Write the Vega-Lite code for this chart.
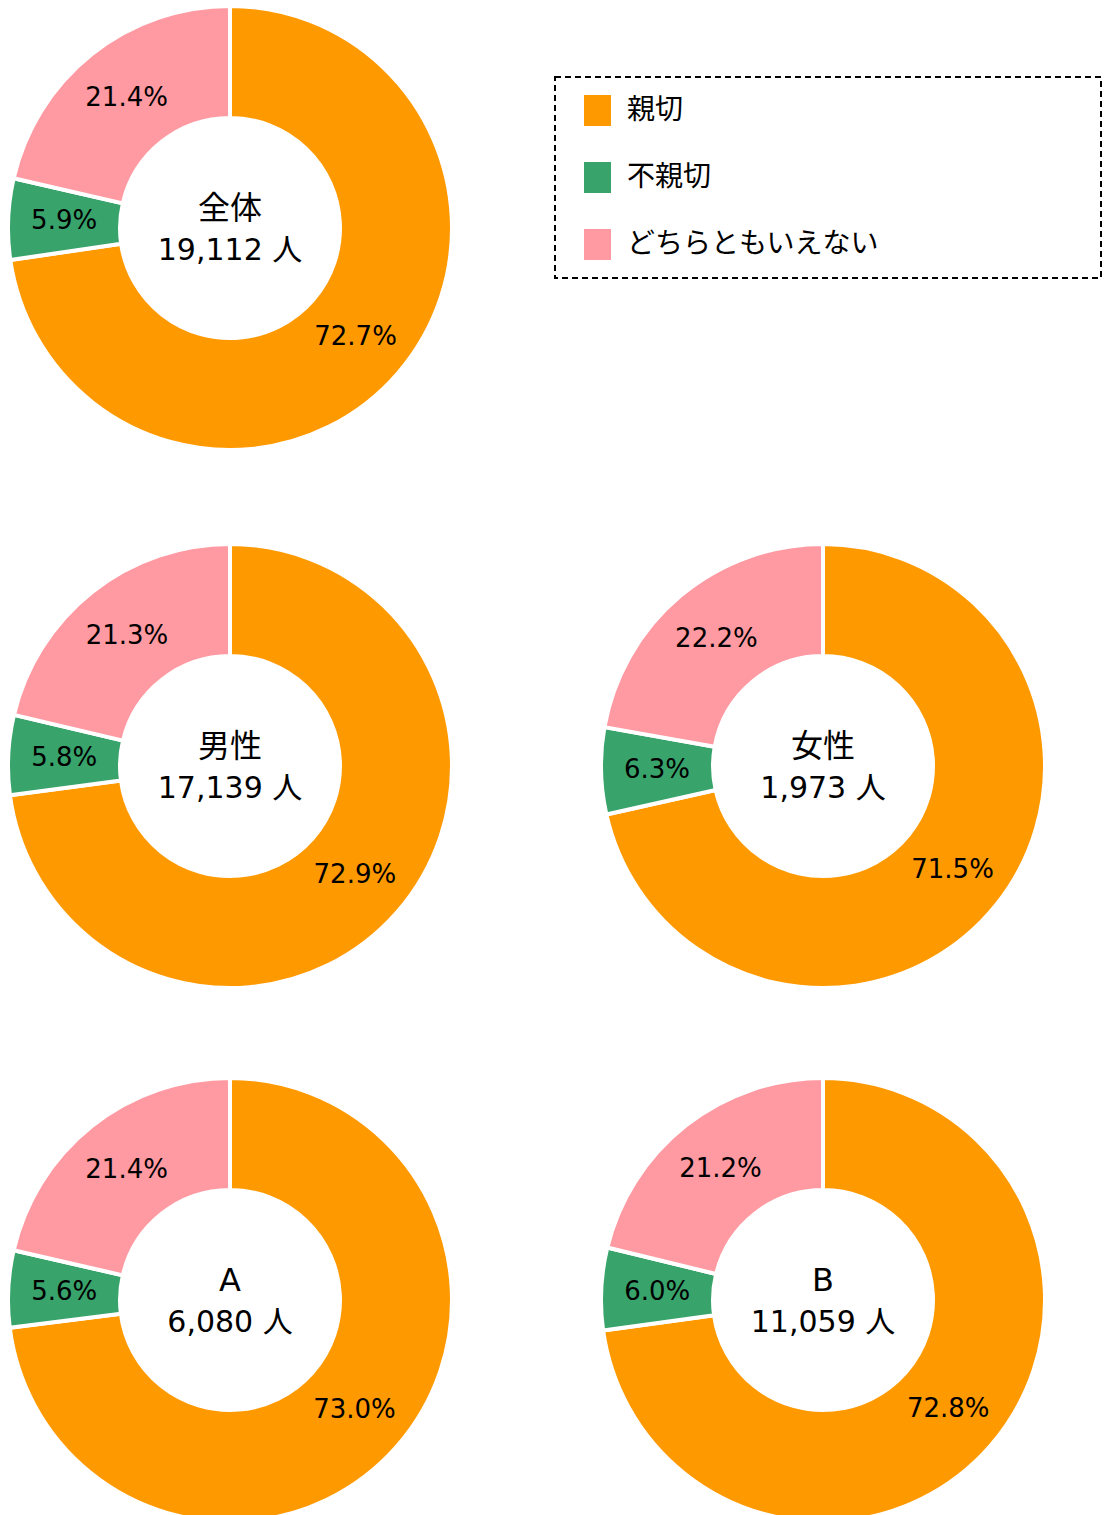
{
  "$schema": "https://vega.github.io/schema/vega-lite/v6.json",
  "padding": {"left": 4, "top": 2, "right": 0, "bottom": 0},
  "background": "white",
  "config": {
    "view": {"stroke": null},
    "legend": {"strokeDash": [6, 4], "strokeWidth": 2, "strokeColor": "black"}
  },
  "data": {
    "values": [
      {"group": "全体", "people": "19,112 人", "cat": "親切", "ord": 1, "pct": 0.727},
      {"group": "全体", "people": "19,112 人", "cat": "不親切", "ord": 2, "pct": 0.059},
      {"group": "全体", "people": "19,112 人", "cat": "どちらともいえない", "ord": 3, "pct": 0.214},
      {"group": "男性", "people": "17,139 人", "cat": "親切", "ord": 1, "pct": 0.729},
      {"group": "男性", "people": "17,139 人", "cat": "不親切", "ord": 2, "pct": 0.058},
      {"group": "男性", "people": "17,139 人", "cat": "どちらともいえない", "ord": 3, "pct": 0.213},
      {"group": "女性", "people": "1,973 人", "cat": "親切", "ord": 1, "pct": 0.715},
      {"group": "女性", "people": "1,973 人", "cat": "不親切", "ord": 2, "pct": 0.063},
      {"group": "女性", "people": "1,973 人", "cat": "どちらともいえない", "ord": 3, "pct": 0.222},
      {"group": "A", "people": "6,080 人", "cat": "親切", "ord": 1, "pct": 0.730},
      {"group": "A", "people": "6,080 人", "cat": "不親切", "ord": 2, "pct": 0.056},
      {"group": "A", "people": "6,080 人", "cat": "どちらともいえない", "ord": 3, "pct": 0.214},
      {"group": "B", "people": "11,059 人", "cat": "親切", "ord": 1, "pct": 0.728},
      {"group": "B", "people": "11,059 人", "cat": "不親切", "ord": 2, "pct": 0.060},
      {"group": "B", "people": "11,059 人", "cat": "どちらともいえない", "ord": 3, "pct": 0.212}
    ]
  },
  "spacing": 86,
  "vconcat": [
    {
      "width": 452, "height": 452,
      "transform": [{"filter": "datum.group === '全体'"}],
      "layer": [
        {"mark": {"type": "arc", "outerRadius": 222, "innerRadius": 110, "stroke": "white", "strokeWidth": 4, "strokeJoin": "round"},
         "encoding": {
           "theta": {"field": "pct", "type": "quantitative", "stack": true},
           "order": {"field": "ord", "type": "quantitative"},
           "color": {"field": "cat", "type": "nominal",
             "scale": {"domain": ["親切", "不親切", "どちらともいえない"], "range": ["#FF9900", "#38A36B", "#FF9AA2"]},
             "legend": {"orient": "none", "legendX": 551, "legendY": 75, "title": null, "symbolType": "M-0.871,-1H0.871V1H-0.871Z", "symbolSize": 961, "symbolStrokeWidth": 0, "symbolOpacity": 1, "labelFontSize": 28, "labelFont": "Noto Sans CJK JP", "labelColor": "black", "labelOffset": 14, "symbolOffset": 9, "rowPadding": 36, "padding": 18, "labelLimit": 800, "labelExpr": "datum.label + '\u2800\u2002\u2800\u2800\u2800\u2800\u2800\u2800\u2800\u2800'"}}
         }},
        {"mark": {"type": "text", "radius": 166, "fontSize": 26, "font": "DejaVu Sans", "color": "black"},
         "encoding": {
           "theta": {"field": "pct", "type": "quantitative", "stack": true},
           "order": {"field": "ord", "type": "quantitative"},
           "detail": {"field": "cat"},
           "text": {"field": "pct", "type": "quantitative", "format": ".1%"}
         }},
        {"transform": [{"filter": "datum.ord === 1"}],
         "mark": {"type": "text", "dy": -19, "fontSize": 32, "font": "DejaVu Sans, Noto Sans CJK JP", "color": "black"},
         "encoding": {"text": {"field": "group"}}},
        {"transform": [{"filter": "datum.ord === 1"}],
         "mark": {"type": "text", "dy": 23, "fontSize": 30, "font": "DejaVu Sans, Noto Sans CJK JP", "color": "black"},
         "encoding": {"text": {"field": "people"}}}
      ]
    },
    {
      "spacing": 82,
      "vconcat": [
        {
          "spacing": 141,
          "bounds": "flush",
          "hconcat": [
            {
              "width": 452, "height": 452,
              "transform": [{"filter": "datum.group === '男性'"}],
              "layer": [
                {"mark": {"type": "arc", "outerRadius": 222, "innerRadius": 110, "stroke": "white", "strokeWidth": 4, "strokeJoin": "round"},
                 "encoding": {
                   "theta": {"field": "pct", "type": "quantitative", "stack": true},
                   "order": {"field": "ord", "type": "quantitative"},
                   "color": {"field": "cat", "type": "nominal",
                     "legend": {"orient": "none", "legendX": 551, "legendY": 75, "title": null, "symbolType": "M-0.871,-1H0.871V1H-0.871Z", "symbolSize": 961, "symbolStrokeWidth": 0, "symbolOpacity": 1, "labelFontSize": 28, "labelFont": "Noto Sans CJK JP", "labelColor": "black", "labelOffset": 14, "symbolOffset": 9, "rowPadding": 36, "padding": 18, "labelLimit": 800, "labelExpr": "datum.label + '\u2800\u2002\u2800\u2800\u2800\u2800\u2800\u2800\u2800\u2800'"}}
                 }},
                {"mark": {"type": "text", "radius": 166, "fontSize": 26, "font": "DejaVu Sans", "color": "black"},
                 "encoding": {
                   "theta": {"field": "pct", "type": "quantitative", "stack": true},
                   "order": {"field": "ord", "type": "quantitative"},
                   "detail": {"field": "cat"},
                   "text": {"field": "pct", "type": "quantitative", "format": ".1%"}
                 }},
                {"transform": [{"filter": "datum.ord === 1"}],
                 "mark": {"type": "text", "dy": -19, "fontSize": 32, "font": "DejaVu Sans, Noto Sans CJK JP", "color": "black"},
                 "encoding": {"text": {"field": "group"}}},
                {"transform": [{"filter": "datum.ord === 1"}],
                 "mark": {"type": "text", "dy": 23, "fontSize": 30, "font": "DejaVu Sans, Noto Sans CJK JP", "color": "black"},
                 "encoding": {"text": {"field": "people"}}}
              ]
            },
            {
              "width": 452, "height": 452,
              "transform": [{"filter": "datum.group === '女性'"}],
              "layer": [
                {"mark": {"type": "arc", "outerRadius": 222, "innerRadius": 110, "stroke": "white", "strokeWidth": 4, "strokeJoin": "round"},
                 "encoding": {
                   "theta": {"field": "pct", "type": "quantitative", "stack": true},
                   "order": {"field": "ord", "type": "quantitative"},
                   "color": {"field": "cat", "type": "nominal",
                     "legend": {"orient": "none", "legendX": 551, "legendY": 75, "title": null, "symbolType": "M-0.871,-1H0.871V1H-0.871Z", "symbolSize": 961, "symbolStrokeWidth": 0, "symbolOpacity": 1, "labelFontSize": 28, "labelFont": "Noto Sans CJK JP", "labelColor": "black", "labelOffset": 14, "symbolOffset": 9, "rowPadding": 36, "padding": 18, "labelLimit": 800, "labelExpr": "datum.label + '\u2800\u2002\u2800\u2800\u2800\u2800\u2800\u2800\u2800\u2800'"}}
                 }},
                {"mark": {"type": "text", "radius": 166, "fontSize": 26, "font": "DejaVu Sans", "color": "black"},
                 "encoding": {
                   "theta": {"field": "pct", "type": "quantitative", "stack": true},
                   "order": {"field": "ord", "type": "quantitative"},
                   "detail": {"field": "cat"},
                   "text": {"field": "pct", "type": "quantitative", "format": ".1%"}
                 }},
                {"transform": [{"filter": "datum.ord === 1"}],
                 "mark": {"type": "text", "dy": -19, "fontSize": 32, "font": "DejaVu Sans, Noto Sans CJK JP", "color": "black"},
                 "encoding": {"text": {"field": "group"}}},
                {"transform": [{"filter": "datum.ord === 1"}],
                 "mark": {"type": "text", "dy": 23, "fontSize": 30, "font": "DejaVu Sans, Noto Sans CJK JP", "color": "black"},
                 "encoding": {"text": {"field": "people"}}}
              ]
            }
          ]
        },
        {
          "spacing": 141,
          "bounds": "flush",
          "hconcat": [
            {
              "width": 452, "height": 452,
              "transform": [{"filter": "datum.group === 'A'"}],
              "layer": [
                {"mark": {"type": "arc", "outerRadius": 222, "innerRadius": 110, "stroke": "white", "strokeWidth": 4, "strokeJoin": "round"},
                 "encoding": {
                   "theta": {"field": "pct", "type": "quantitative", "stack": true},
                   "order": {"field": "ord", "type": "quantitative"},
                   "color": {"field": "cat", "type": "nominal",
                     "legend": {"orient": "none", "legendX": 551, "legendY": 75, "title": null, "symbolType": "M-0.871,-1H0.871V1H-0.871Z", "symbolSize": 961, "symbolStrokeWidth": 0, "symbolOpacity": 1, "labelFontSize": 28, "labelFont": "Noto Sans CJK JP", "labelColor": "black", "labelOffset": 14, "symbolOffset": 9, "rowPadding": 36, "padding": 18, "labelLimit": 800, "labelExpr": "datum.label + '\u2800\u2002\u2800\u2800\u2800\u2800\u2800\u2800\u2800\u2800'"}}
                 }},
                {"mark": {"type": "text", "radius": 166, "fontSize": 26, "font": "DejaVu Sans", "color": "black"},
                 "encoding": {
                   "theta": {"field": "pct", "type": "quantitative", "stack": true},
                   "order": {"field": "ord", "type": "quantitative"},
                   "detail": {"field": "cat"},
                   "text": {"field": "pct", "type": "quantitative", "format": ".1%"}
                 }},
                {"transform": [{"filter": "datum.ord === 1"}],
                 "mark": {"type": "text", "dy": -19, "fontSize": 32, "font": "DejaVu Sans, Noto Sans CJK JP", "color": "black"},
                 "encoding": {"text": {"field": "group"}}},
                {"transform": [{"filter": "datum.ord === 1"}],
                 "mark": {"type": "text", "dy": 23, "fontSize": 30, "font": "DejaVu Sans, Noto Sans CJK JP", "color": "black"},
                 "encoding": {"text": {"field": "people"}}}
              ]
            },
            {
              "width": 452, "height": 452,
              "transform": [{"filter": "datum.group === 'B'"}],
              "layer": [
                {"mark": {"type": "arc", "outerRadius": 222, "innerRadius": 110, "stroke": "white", "strokeWidth": 4, "strokeJoin": "round"},
                 "encoding": {
                   "theta": {"field": "pct", "type": "quantitative", "stack": true},
                   "order": {"field": "ord", "type": "quantitative"},
                   "color": {"field": "cat", "type": "nominal",
                     "legend": {"orient": "none", "legendX": 551, "legendY": 75, "title": null, "symbolType": "M-0.871,-1H0.871V1H-0.871Z", "symbolSize": 961, "symbolStrokeWidth": 0, "symbolOpacity": 1, "labelFontSize": 28, "labelFont": "Noto Sans CJK JP", "labelColor": "black", "labelOffset": 14, "symbolOffset": 9, "rowPadding": 36, "padding": 18, "labelLimit": 800, "labelExpr": "datum.label + '\u2800\u2002\u2800\u2800\u2800\u2800\u2800\u2800\u2800\u2800'"}}
                 }},
                {"mark": {"type": "text", "radius": 166, "fontSize": 26, "font": "DejaVu Sans", "color": "black"},
                 "encoding": {
                   "theta": {"field": "pct", "type": "quantitative", "stack": true},
                   "order": {"field": "ord", "type": "quantitative"},
                   "detail": {"field": "cat"},
                   "text": {"field": "pct", "type": "quantitative", "format": ".1%"}
                 }},
                {"transform": [{"filter": "datum.ord === 1"}],
                 "mark": {"type": "text", "dy": -19, "fontSize": 32, "font": "DejaVu Sans, Noto Sans CJK JP", "color": "black"},
                 "encoding": {"text": {"field": "group"}}},
                {"transform": [{"filter": "datum.ord === 1"}],
                 "mark": {"type": "text", "dy": 23, "fontSize": 30, "font": "DejaVu Sans, Noto Sans CJK JP", "color": "black"},
                 "encoding": {"text": {"field": "people"}}}
              ]
            }
          ]
        }
      ]
    }
  ]
}
